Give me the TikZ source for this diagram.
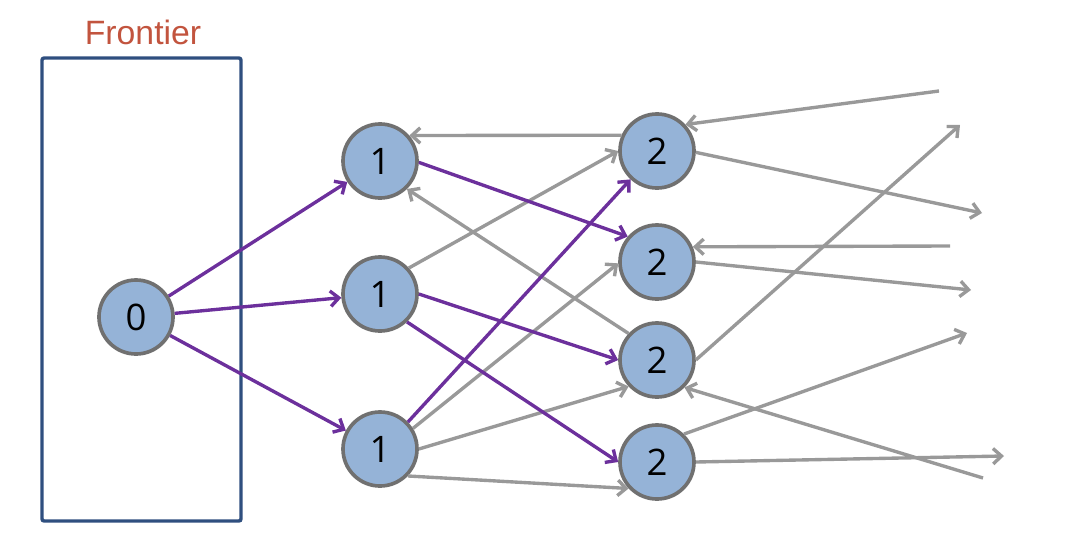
\documentclass[tikz,border=0pt]{standalone}
\usepackage{fontspec}
\setmainfont{Liberation Sans}
\newfontfamily\digitfont{Open Sans}
\usepackage{tikz}
\usetikzlibrary{arrows.meta}

\definecolor{statefill}{RGB}{149,179,215}
\definecolor{statedraw}{RGB}{112,112,112}
\definecolor{searchpurple}{RGB}{108,48,156}
\definecolor{othergray}{RGB}{153,153,153}
\definecolor{framblue}{RGB}{47,79,127}
\definecolor{labelred}{RGB}{194,84,62}

\begin{document}
\begin{tikzpicture}[
  x=0.025cm, y=-0.025cm,
  state/.style={circle, draw=statedraw, fill=statefill, line width=2.6pt, minimum size=1.85cm, inner sep=0pt, font=\digitfont\fontsize{26}{26}\selectfont},
  search/.style={-{Straight Barb[length=6pt,width=11pt]}, line width=2.4pt, searchpurple},
  other/.style={-{Straight Barb[length=6pt,width=11pt]}, line width=2.4pt, othergray},
  frontier/.style={draw=framblue, line width=2.4pt, rounded corners=1.5pt},
  caption/.style={font=\fontsize{24}{24}\selectfont, text=labelred}
]
\useasboundingbox (0,0) rectangle (1072,546);

\draw[frontier] (42,58) rectangle (241,521);
\node[caption] (frontlabel) at (143,32) {Frontier};

\node[state] (s0)  at (136,317) {0};
\node[state] (s1a) at (380,161) {1};
\node[state] (s1b) at (380,294) {1};
\node[state] (s1c) at (380,449) {1};
\node[state] (s2a) at (657,151) {2};
\node[state] (s2b) at (657,262) {2};
\node[state] (s2c) at (657,360) {2};
\node[state] (s2d) at (657,462) {2};

\coordinate (ina)  at (939,91);
\coordinate (outa) at (982,213);
\coordinate (inb)  at (950,246);
\coordinate (outb) at (971,290);
\coordinate (outc) at (960,125);
\coordinate (inc)  at (983,478);
\coordinate (outd) at (967,333);
\coordinate (oute) at (1004,456);

\draw[other] (s2a.156) -- (s1a.41);
\draw[other] (s1b.42) -- (s2a.180);
\draw[other] (s2c.137) -- (s1a.-46);
\draw[other] (s1c.32) -- (s2b.182);
\draw[other] (s1c.0) -- (s2c.223);
\draw[other] (s1c.-44) -- (s2d.223);

\draw[other] (ina) -- (s2a.43);
\draw[other] (s2a.-2) -- (outa);
\draw[other] (inb) -- (s2b.23);
\draw[other] (s2b.0) -- (outb);
\draw[other] (s2c.0) -- (outc);
\draw[other] (inc) -- (s2c.-45);
\draw[other] (s2d.46) -- (outd);
\draw[other] (s2d.0) -- (oute);

\draw[search] (s0) -- (s1a);
\draw[search] (s0) -- (s1b);
\draw[search] (s0) -- (s1c);
\draw[search] (s1a.-2) -- (s2b.139);
\draw[search] (s1b.0) -- (s2c.180);
\draw[search] (s1b.-46) -- (s2d.180);
\draw[search] (s1c.44) -- (s2a.227);

\end{tikzpicture}
\end{document}
